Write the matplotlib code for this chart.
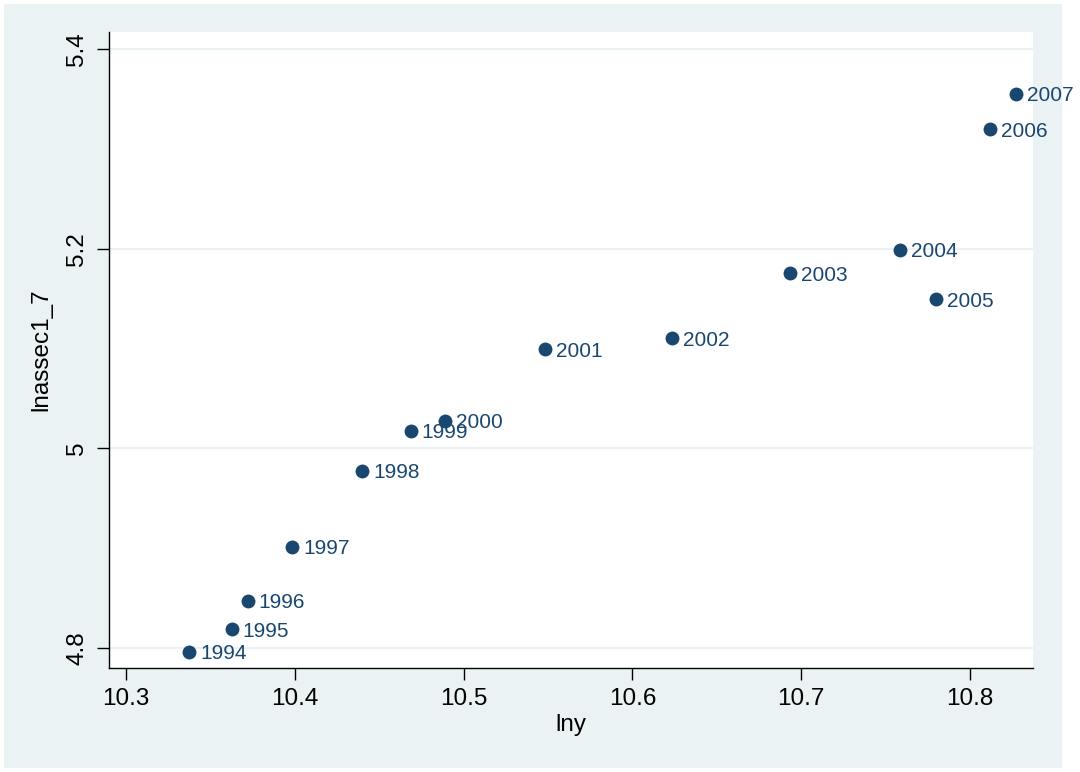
import matplotlib
matplotlib.use('Agg')
import matplotlib.pyplot as plt
from matplotlib.patches import Rectangle

# data
years = [1994, 1995, 1996, 1997, 1998, 1999, 2000,
         2001, 2002, 2003, 2004, 2005, 2006, 2007]
lny = [10.3377, 10.3628, 10.3722, 10.3985, 10.4401, 10.4687, 10.4892,
       10.5484, 10.6233, 10.6935, 10.7584, 10.7798, 10.8116, 10.8271]
lnassec1_7 = [4.7963, 4.8187, 4.8474, 4.9015, 4.9777, 5.0174, 5.0278,
              5.0993, 5.1103, 5.1754, 5.1988, 5.1494, 5.3197, 5.3554]
xticks = [10.3, 10.4, 10.5, 10.6, 10.7, 10.8]
yticks = [4.8, 5.0, 5.2, 5.4]
yticklabels = ['4.8', '5', '5.2', '5.4']

navy = '#1A476F'
bluishgray = '#EAF2F3'

plt.rcParams['font.family'] = ['Liberation Sans', 'DejaVu Sans']

W, H = 1080, 772
fig = plt.figure(figsize=(W / 100, H / 100), dpi=100)
fig.patch.set_facecolor('white')
# outer Stata-like panel
fig.patches.append(Rectangle((4 / W, 4 / H), (1062 - 4) / W, (768 - 4) / H,
                             transform=fig.transFigure, facecolor=bluishgray,
                             edgecolor='none', zorder=0))

ax = fig.add_axes([108.5 / W, (H - 668) / H, (1033 - 108.5) / W, (668 - 32) / H])
ax.set_facecolor('white')
ax.set_zorder(1)

ax.scatter(lny, lnassec1_7, s=100, color=navy, zorder=3, linewidths=0)
for x, y, yr in zip(lny, lnassec1_7, years):
    ax.annotate(str(yr), (x, y), xytext=(11, -2), textcoords='offset pixels',
                ha='left', va='center', color=navy, fontsize=15, zorder=4)

ax.set_xlim(10.2898, 10.8372)
ax.set_ylim(4.78, 5.417)
ax.set_xticks(xticks)
ax.set_xticklabels([f'{t:.1f}' for t in xticks])
ax.set_yticks(yticks)
ax.set_yticklabels(yticklabels, rotation=90, va='center')

ax.grid(axis='y', color=bluishgray, linewidth=1.5, zorder=0)
ax.set_axisbelow(True)
for side in ['top', 'right']:
    ax.spines[side].set_visible(False)
for side in ['left', 'bottom']:
    ax.spines[side].set_color('black')
    ax.spines[side].set_linewidth(1.0)

ax.tick_params(axis='both', direction='out', length=8.5, width=1.0,
               labelsize=17.5, pad=6, colors='black')
ax.set_xlabel('lny', fontsize=17.5, labelpad=3)
ax.set_ylabel('lnassec1_7', fontsize=17.5, labelpad=10)

fig.savefig('out.png', dpi=100, facecolor=fig.get_facecolor())
